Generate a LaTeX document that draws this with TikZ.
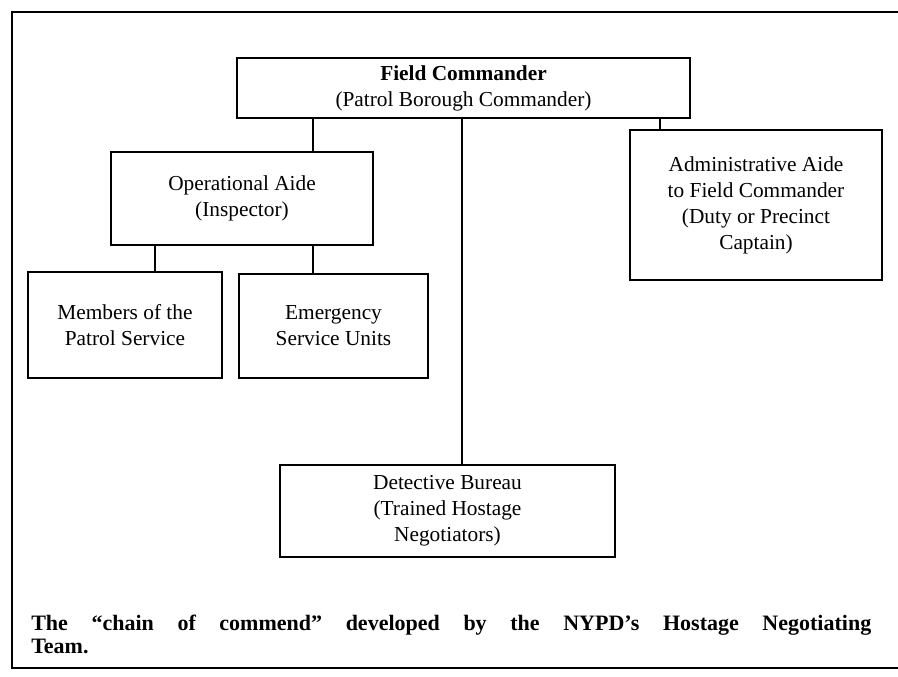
\documentclass[tikz,border=0pt]{standalone}
\usepackage{fontspec}
\setmainfont{Liberation Serif}
\usepackage{tikz}

\tikzset{
  orgbox/.style={draw, line width=1pt, align=center, inner sep=0pt,
    font=\fontsize{16}{19.5}\selectfont},
  orgline/.style={line width=1pt},
}

\begin{document}
\begin{tikzpicture}[x=0.75pt,y=0.75pt,yscale=-1,xscale=1]
\useasboundingbox (0,0) rectangle (898,677);

%Shape: Frame
\draw [line width=1.5pt] (898,12) -- (12,12) -- (12,668) -- (898,668) ;

%Shape: Rectangle [field]
\node [orgbox, minimum width=339.75pt, minimum height=45pt] (field) at (463.5,88)
  {\textbf{Field Commander}\\(Patrol Borough Commander)};
%Shape: Rectangle [opaide]
\node [orgbox, minimum width=196.5pt, minimum height=69.75pt] (opaide) at (242,198.5)
  {Operational Aide\\(Inspector)};
%Shape: Rectangle [patrol]
\node [orgbox, minimum width=145.5pt, minimum height=79.5pt] (patrol) at (125,325)
  {Members of the\\Patrol Service};
%Shape: Rectangle [esu]
\node [orgbox, minimum width=141.75pt, minimum height=78pt] (esu) at (333.5,326)
  {Emergency\\Service Units};
%Shape: Rectangle [adminaide]
\node [orgbox, minimum width=189pt, minimum height=112.5pt] (adminaide) at (756,205)
  {Administrative Aide\\to Field Commander\\(Duty or Precinct\\Captain)};
%Shape: Rectangle [detective]
\node [orgbox, minimum width=251.25pt, minimum height=69pt] (detective) at (447.5,511)
  {Detective Bureau\\(Trained Hostage\\Negotiators)};

%Straight Lines
\draw [orgline] (field.south -| 313,0) -- (opaide.north -| 313,0) ;
\draw [orgline] (field.south -| 462,0) -- (detective.north -| 462,0) ;
\draw [orgline] (field.south -| 660,0) -- (adminaide.north -| 660,0) ;
\draw [orgline] (opaide.south -| 155,0) -- (patrol.north -| 155,0) ;
\draw [orgline] (opaide.south -| 313,0) -- (esu.north -| 313,0) ;

% Text Node
\node [anchor=north west, inner sep=0pt, text width=630pt, align=justify,
  font=\fontsize{16.5}{17}\selectfont\bfseries] (caption) at (31,615)
  {The ``chain of commend'' developed by the NYPD's Hostage Negotiating\linebreak Team.};

\end{tikzpicture}
\end{document}
